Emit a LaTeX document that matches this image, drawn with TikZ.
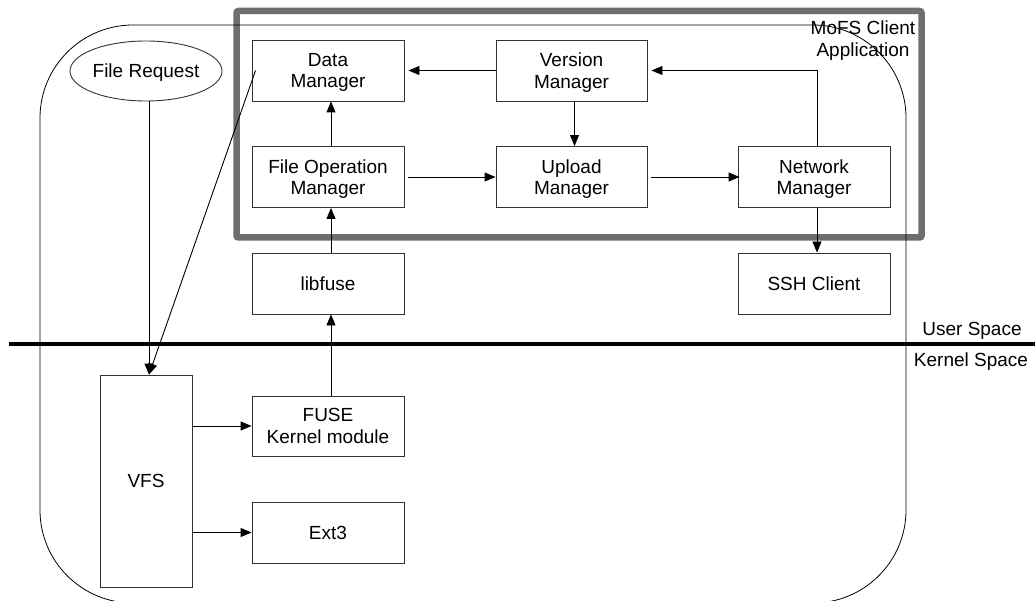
\documentclass[tikz,border=0pt]{standalone}
\usepackage{fontspec}
\setmainfont{Liberation Sans}
\usetikzlibrary{arrows.meta,shapes.geometric}
\definecolor{framegray}{RGB}{110,110,110}
% keep descenders of a last line from pushing the text block upwards
\newcommand\nodesc[1]{\raisebox{0pt}[\height][0pt]{#1}}
\begin{document}
\begin{tikzpicture}[x=1pt,y=-1pt,
  font=\fontsize{19}{21.5}\selectfont,
  box/.style={draw=black!80, line width=0.9pt, minimum width=152pt,
    minimum height=61pt, inner sep=0pt, align=center},
  arr/.style={draw=black, line width=0.9pt,
    -{Triangle[length=11pt,width=9pt]}},
  plain/.style={inner sep=0pt}]
\useasboundingbox (0,0) rectangle (1035,601);

% client application frame
\draw[framegray, line width=6.5pt, rounded corners=2pt]
  (236.5,11) rectangle (921.5,237.5);

% process outline
\draw[line width=0.8pt, rounded corners=93pt] (40,25) rectangle (906,603);

% user / kernel boundary
\coordinate (sepL) at (9,344);
\coordinate (sepR) at (1035,344);
\draw[line width=3.3pt] (sepL) -- (sepR);

% labels
\node[plain, align=center] (app) at (863,38.5) {MoFS Client\\\nodesc{Application}};
\node[plain, anchor=base] (us) at (972,335) {User Space};
\node[plain, anchor=base] (ks) at (971,366) {Kernel Space};

% request
\node[draw=black!80, line width=0.9pt, ellipse, minimum width=152pt,
  minimum height=60pt, inner sep=0pt, text depth=0pt] (fr) at (146,71) {File Request};

% components
\node[box] (dm)   at (328,70.5)   {Data\\\nodesc{Manager}};
\node[box] (fom)  at (328,177)    {File Operation\\\nodesc{Manager}};
\node[box] (lib)  at (328,283.5)  {libfuse};
\node[box, minimum width=151pt] (ver) at (571.5,70.5) {Version\\\nodesc{Manager}};
\node[box, minimum width=151pt] (up)  at (571.5,177)  {Upload\\\nodesc{Manager}};
\node[box] (net)  at (814,177)    {Network\\\nodesc{Manager}};
\node[box] (ssh)  at (814,283.5)  {SSH Client};
\node[box, minimum height=60pt] (fuse) at (328,426) {FUSE\\Kernel module};
\node[box] (ext)  at (328,532.5)  {Ext3};
\node[box, minimum width=92pt, minimum height=212pt] (vfs) at (146,481) {VFS};

% connectors
\coordinate (vin) at ([xshift=3pt]vfs.north);
\draw[arr] (fr.south -| vin) -- (vin);
\draw[arr] ([xshift=4pt]dm.west) -- (vin);
\draw[arr] ([xshift=3pt]fom.north) -- ([xshift=3pt]dm.south);
\draw[arr] ([xshift=3pt]lib.north) -- ([xshift=3pt]fom.south);
\draw[arr] ([xshift=3pt]fuse.north) -- ([xshift=3pt]lib.south);
\draw[arr] (ver.west) -- ([xshift=4pt]dm.east);
\draw[arr] ([xshift=3pt]ver.south) -- ([xshift=3pt]up.north);
\draw[arr] ([xshift=4pt]fom.east) -- (up.west);
\draw[arr] ([xshift=4pt]up.east) -- ([xshift=2pt]net.west);
\draw[arr] ([xshift=3pt]net.north) |- ([xshift=4pt]ver.east);
\draw[arr] ([xshift=3pt]net.south) -- ([xshift=3pt]ssh.north);
\draw[arr] (vfs.east |- fuse) -- (fuse.west);
\draw[arr] (vfs.east |- ext) -- (ext.west);
\end{tikzpicture}
\end{document}
